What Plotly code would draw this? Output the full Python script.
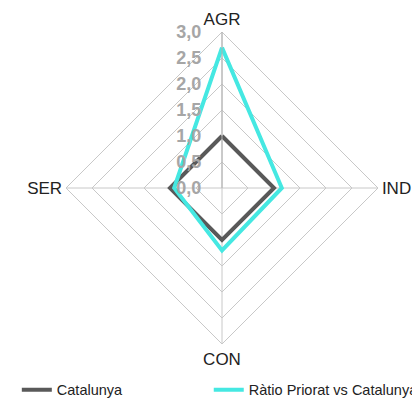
import plotly.graph_objects as go

categories = ["AGR", "IND", "CON", "SER"]
catalunya = [1.0, 1.0, 1.0, 1.0]
ratio = [2.7, 1.15, 1.2, 0.92]
tick_vals = [0, 0.5, 1.0, 1.5, 2.0, 2.5, 3.0]

fig = go.Figure()
fig.add_trace(go.Scatterpolar(
    r=catalunya + catalunya[:1], theta=categories + categories[:1],
    mode="lines", name="Catalunya", showlegend=True,
    line=dict(color="#595959", width=4), legend="legend"))
fig.add_trace(go.Scatterpolar(
    r=ratio + ratio[:1], theta=categories + categories[:1],
    mode="lines", name="Ràtio Priorat vs Catalunya", showlegend=True,
    line=dict(color="#45E8E2", width=4), legend="legend2"))

cx, cy, R = 214, 180, 156
legend_style = dict(orientation="h", y=0.008, xanchor="left", yanchor="bottom",
                    bgcolor="rgba(0,0,0,0)", font=dict(size=14.5, color="#222"))
fig.update_layout(
    width=420, height=401,
    margin=dict(l=0, r=0, t=0, b=0),
    paper_bgcolor="white",
    showlegend=True,
    separators=",.",
    font=dict(family="Liberation Sans, Arial", size=14, color="#222"),
    polar=dict(
        domain=dict(x=[(cx - R) / 420, (cx + R) / 420],
                    y=[(401 - cy - R) / 401, (401 - cy + R) / 401]),
        bgcolor="white",
        gridshape="linear",
        radialaxis=dict(
            range=[0, 3], tickvals=tick_vals, tickformat=".1f",
            angle=90, side="counterclockwise", tickangle=90,
            showline=True, linecolor="#b0b0b0", linewidth=1,
            gridcolor="#c8c8c8", gridwidth=1,
            ticks="outside", ticklen=14, tickcolor="rgba(0,0,0,0)",
            tickfont=dict(family="Liberation Sans, Arial", size=18, color="#a6a6a6", weight="bold"),
        ),
        angularaxis=dict(
            rotation=90, direction="clockwise",
            showline=True, linecolor="#c8c8c8", linewidth=1,
            gridcolor="#c8c8c8", ticks="",
            tickfont=dict(family="Liberation Sans, Arial", size=17, color="#222"),
        ),
    ),
    legend=dict(x=0.021, visible=True, **legend_style),
    legend2=dict(x=0.478, visible=True, **legend_style),
)

fig.write_html("out.html")
